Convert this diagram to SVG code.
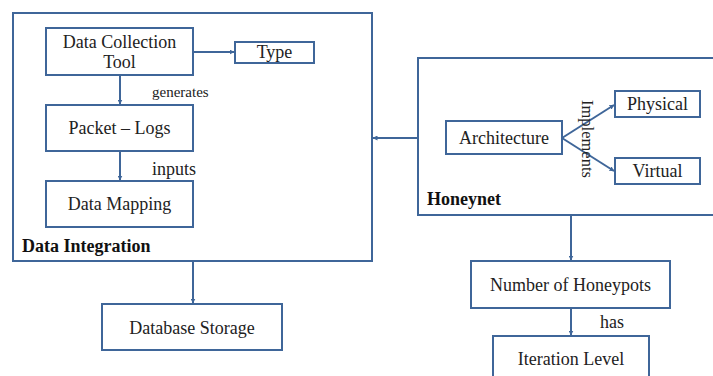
<svg xmlns="http://www.w3.org/2000/svg" width="713" height="376" viewBox="0 0 713 376">
<defs>
<marker id="ah" viewBox="0 0 10 10" refX="9" refY="5" markerWidth="5" markerHeight="5" orient="auto" markerUnits="userSpaceOnUse">
<path d="M0,0 L10,5 L0,10 z" fill="#3f6699"/>
</marker>
<style>
.box{fill:#fff;stroke:#3f6699;stroke-width:2}
.frame{fill:none;stroke:#3f6699;stroke-width:2}
.t{font-family:"Liberation Serif","Times New Roman",serif;font-size:18px;fill:#222;text-anchor:middle}
.lbl{font-family:"Liberation Serif","Times New Roman",serif;font-size:18px;fill:#222}
.b{font-family:"Liberation Serif","Times New Roman",serif;font-size:18px;font-weight:bold;fill:#111}
.c{fill:none;stroke:#3f6699;stroke-width:2;marker-end:url(#ah)}
</style>
</defs>
<rect width="713" height="376" fill="#fff"/>
<g id="data-integration">
<rect class="frame" x="13" y="13" width="359" height="248"/>
<text class="b" x="22" y="252">Data Integration</text>
</g>
<g id="honeynet">
<rect class="frame" x="418" y="58" width="305" height="157"/>
<text class="b" x="427" y="205">Honeynet</text>
</g>
<g id="connectors">
<line class="c" x1="193" y1="52" x2="234" y2="52"/>
<line class="c" x1="120" y1="75" x2="120" y2="104"/>
<line class="c" x1="120" y1="151" x2="120" y2="180"/>
<line class="c" x1="418" y1="138" x2="373" y2="138"/>
<line class="c" x1="562" y1="138" x2="614" y2="105"/>
<line class="c" x1="562" y1="138" x2="614" y2="171"/>
<line class="c" x1="193" y1="261" x2="193" y2="303"/>
<line class="c" x1="571" y1="215" x2="571" y2="260"/>
<line class="c" x1="571" y1="308" x2="571" y2="335"/>
<text class="lbl" x="152" y="97" style="font-size:15px">generates</text>
<text class="lbl" x="152" y="175">inputs</text>
<text class="lbl" x="600" y="328">has</text>
<text class="lbl" transform="translate(582,100) rotate(90)" style="font-size:16.5px">Implements</text>
</g>
<g id="data-collection-tool">
<rect class="box" x="46" y="28" width="147" height="47"/>
<text class="t" x="119.5" y="48">Data Collection</text>
<text class="t" x="119.5" y="68">Tool</text>
</g>
<g id="type">
<rect class="box" x="235" y="42" width="79" height="21"/>
<text class="t" x="274.5" y="58">Type</text>
</g>
<g id="packet-logs">
<rect class="box" x="46" y="105" width="147" height="46"/>
<text class="t" x="119.5" y="134">Packet – Logs</text>
</g>
<g id="data-mapping">
<rect class="box" x="46" y="181" width="147" height="46"/>
<text class="t" x="119.5" y="210">Data Mapping</text>
</g>
<g id="database-storage">
<rect class="box" x="102" y="304" width="180" height="46"/>
<text class="t" x="192" y="334">Database Storage</text>
</g>
<g id="architecture">
<rect class="box" x="446" y="121" width="116" height="33"/>
<text class="t" x="504" y="144">Architecture</text>
</g>
<g id="physical">
<rect class="box" x="615" y="91" width="85" height="26"/>
<text class="t" x="657.5" y="110">Physical</text>
</g>
<g id="virtual">
<rect class="box" x="615" y="158" width="85" height="26"/>
<text class="t" x="657.5" y="177">Virtual</text>
</g>
<g id="number-of-honeypots">
<rect class="box" x="471" y="261" width="199" height="47"/>
<text class="t" x="570.5" y="291">Number of Honeypots</text>
</g>
<g id="iteration-level">
<rect class="box" x="493" y="336" width="156" height="50"/>
<text class="t" x="571" y="365">Iteration Level</text>
</g>
</svg>
